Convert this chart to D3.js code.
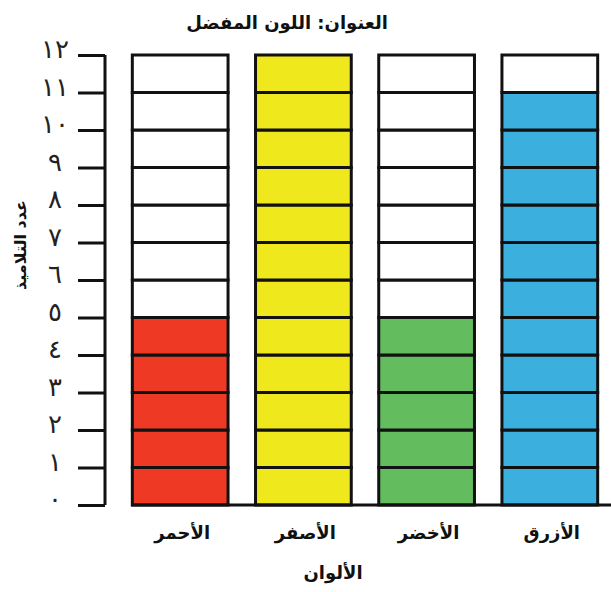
<!DOCTYPE html>
<html><head><meta charset="utf-8">
<script src="https://cdn.jsdelivr.net/npm/d3@7"></script>
<style>body{margin:0;background:#fff}svg{display:block}</style>
</head><body>
<svg id="c" width="611" height="592"></svg>
<script>
const categories = ["الأحمر", "الأصفر", "الأخضر", "الأزرق"];
const values = [5, 12, 5, 11];
const colors = ["#EE3A24", "#EEE81C", "#63BC5E", "#3BB0DF"];
const yTickLabels = ["٠","١","٢","٣","٤","٥","٦","٧","٨","٩","١٠","١١","١٢"];
const maxCount = 12;
const title = "العنوان: اللون المفضل";
const xTitle = "الألوان";
const yTitle = "عدد التلاميذ";

const svg = d3.select("#c");
const font = "'DejaVu Sans', sans-serif";

const y = d3.scaleLinear().domain([0, maxCount]).range([505, 55]);
const x = d3.scaleBand().domain(categories).range([120, 610]).paddingInner(0.223).paddingOuter(0.1);

// y axis
const yAxis = d3.axisLeft(y).tickValues(d3.range(0, maxCount + 1))
  .tickSize(27).tickPadding(16).tickFormat(d => yTickLabels[d]);
const gy = svg.append("g").attr("transform", "translate(105,0)").call(yAxis);
gy.select(".domain").attr("d", `M0,${y(0)}V${y(maxCount)}`).attr("stroke", "#111").attr("stroke-width", 3);
gy.selectAll(".tick line").attr("stroke", "#111").attr("stroke-width", 3);
gy.selectAll(".tick text").attr("font-family", font).attr("font-size", 26).attr("fill", "#222").attr("text-anchor", "middle").attr("x", -50).attr("dy", "0.1em");

// cells
const cells = [];
categories.forEach((c, i) => {
  for (let k = 0; k < maxCount; k++) cells.push({c, k, filled: k < values[i], color: colors[i]});
});
svg.append("g").selectAll("rect").data(cells).join("rect")
  .attr("x", d => x(d.c))
  .attr("width", x.bandwidth())
  .attr("y", d => y(d.k + 1))
  .attr("height", d => y(d.k) - y(d.k + 1))
  .attr("fill", d => d.filled ? d.color : "#fff")
  .attr("stroke", "#111").attr("stroke-width", 3);

// baseline
svg.append("line").attr("x1", x(categories[0]) - 1).attr("x2", 611)
  .attr("y1", y(0)).attr("y2", y(0)).attr("stroke", "#111").attr("stroke-width", 3);

// x labels
svg.append("g").selectAll("text").data(categories).join("text")
  .attr("x", d => x(d) + x.bandwidth() / 2 + 2)
  .attr("y", 539)
  .attr("text-anchor", "middle")
  .attr("font-family", font).attr("font-size", 18).attr("font-weight", "bold").attr("fill", "#111")
  .text(d => d);

svg.append("text").attr("x", 333).attr("y", 579).attr("text-anchor", "middle")
  .attr("font-family", font).attr("font-size", 18).attr("font-weight", "bold").attr("fill", "#111").text(xTitle);

svg.append("text").attr("x", 287).attr("y", 29).attr("text-anchor", "middle")
  .attr("font-family", font).attr("font-size", 18).attr("font-weight", "bold").attr("fill", "#111").text(title);

svg.append("text").attr("transform", "translate(26,245) rotate(-90)").attr("text-anchor", "middle")
  .attr("font-family", font).attr("font-size", 16).attr("font-weight", "bold").attr("fill", "#111").text(yTitle);
</script>
</body></html>
